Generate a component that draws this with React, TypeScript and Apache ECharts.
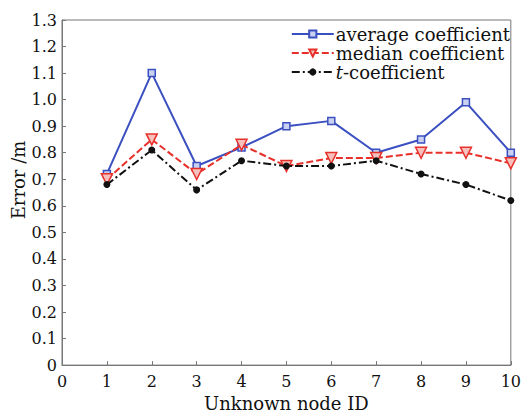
import React, { useEffect, useRef } from "react";
import * as echarts from "echarts";

const nodeIds = [1, 2, 3, 4, 5, 6, 7, 8, 9, 10];
const averageCoef = [0.72, 1.1, 0.75, 0.82, 0.9, 0.92, 0.8, 0.85, 0.99, 0.8];
const medianCoef = [0.7, 0.85, 0.72, 0.83, 0.75, 0.78, 0.78, 0.8, 0.8, 0.76];
const tCoef = [0.68, 0.81, 0.66, 0.77, 0.75, 0.75, 0.77, 0.72, 0.68, 0.62];
const seriesNames = ["average coefficient", "median coefficient", "t-coefficient"];

const FONT = "DejaVu Serif";

export default function App() {
  const ref = useRef<HTMLDivElement>(null);
  useEffect(() => {
    document.body.style.margin = "0";
    const chart = echarts.init(ref.current!, null, { renderer: "svg" });
    const pair = (arr: number[]) => nodeIds.map((x, i) => [x, arr[i]]);
    chart.setOption({
      animation: false,
      backgroundColor: "#fff",
      grid: {
        left: 62,
        right: 11,
        top: 20,
        bottom: 40,
        show: true,
        borderColor: "#777",
        borderWidth: 1,
      },
      legend: {
        orient: "vertical",
        right: 14,
        top: 25,
        itemWidth: 42,
        itemHeight: 9,
        itemGap: 1,
        padding: 0,
        data: seriesNames,
        formatter: (name: string) =>
          name === "t-coefficient" ? "{i|t}-coefficient" : name,
        textStyle: {
          fontFamily: FONT,
          fontSize: 18,
          color: "#111",
          padding: [0, 0, 0, -3],
          rich: { i: { fontStyle: "italic", fontFamily: FONT, fontSize: 18, color: "#111" } },
        },
      },
      graphic: [
        {
          type: "text",
          x: 9,
          y: 180,
          rotation: Math.PI / 2,
          style: {
            text: "Error /m",
            fontFamily: FONT,
            fontSize: 18,
            fill: "#111",
            textAlign: "center",
            textVerticalAlign: "top",
          },
        },
      ],
      xAxis: {
        type: "value",
        min: 0,
        max: 10,
        interval: 1,
        name: "Unknown node ID",
        nameLocation: "middle",
        nameGap: 24,
        nameTextStyle: { fontFamily: FONT, fontSize: 18, color: "#111" },
        axisLine: { lineStyle: { color: "#777", width: 1 } },
        axisTick: { inside: true, length: 4, lineStyle: { color: "#777" } },
        axisLabel: { fontFamily: FONT, fontSize: 16, color: "#111", margin: 8 },
        splitLine: { show: false },
      },
      yAxis: {
        type: "value",
        min: 0,
        max: 1.3,
        interval: 0.1,
        axisLine: { show: true, lineStyle: { color: "#777", width: 1 } },
        axisTick: { show: true, inside: true, length: 4, lineStyle: { color: "#777" } },
        axisLabel: {
          fontFamily: FONT,
          fontSize: 16,
          color: "#111",
          margin: 5,
          formatter: (v: number) => (v === 0 ? "0" : v.toFixed(1)),
        },
        splitLine: { show: false },
      },
      series: [
        {
          name: seriesNames[0],
          type: "line",
          data: pair(averageCoef),
          symbol: "rect",
          symbolSize: 7,
          color: "#3b50c0",
          lineStyle: { color: "#3b50c0", width: 2 },
          itemStyle: { color: "#c9d0f0", borderColor: "#3b50c0", borderWidth: 1.5 },
          z: 3,
        },
        {
          name: seriesNames[1],
          type: "line",
          data: pair(medianCoef),
          symbol: "triangle",
          symbolRotate: 180,
          symbolSize: 11,
          color: "#e8302a",
          lineStyle: { color: "#e8302a", width: 2, type: [7, 3] },
          itemStyle: { color: "#f6c0bd", borderColor: "#e8302a", borderWidth: 1.5 },
          z: 4,
        },
        {
          name: seriesNames[2],
          type: "line",
          data: pair(tCoef),
          symbol: "circle",
          symbolSize: 7,
          color: "#111",
          lineStyle: { color: "#111", width: 2, type: [8, 3, 2, 3] },
          itemStyle: { color: "#111" },
          z: 5,
        },
      ],
    });
    return () => chart.dispose();
  }, []);
  return <div ref={ref} style={{ width: 524, height: 417 }} />;
}
